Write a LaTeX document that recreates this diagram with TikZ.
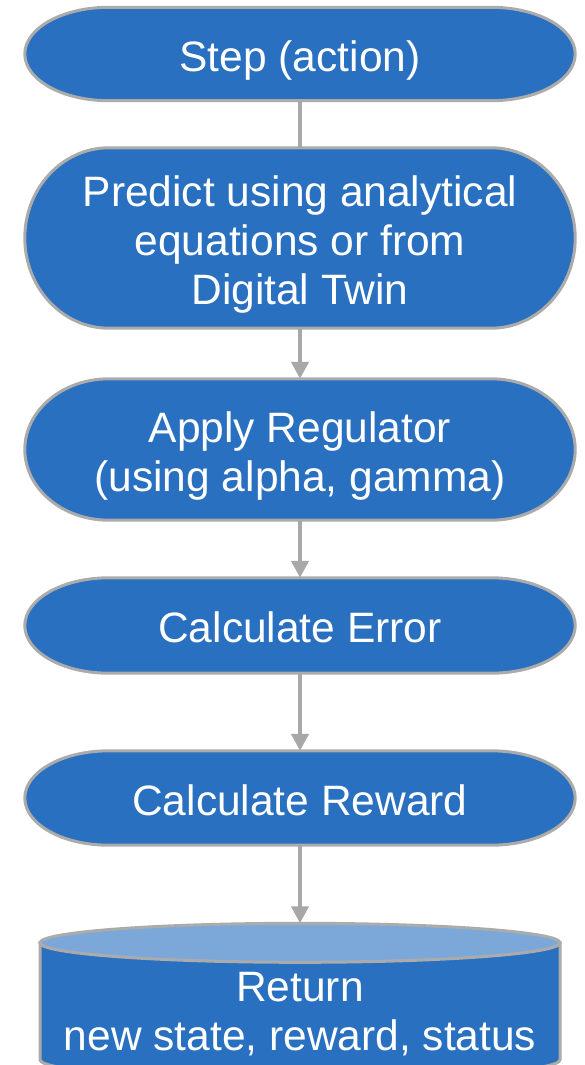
\documentclass[tikz,border=0pt]{standalone}
\usepackage{fontspec}
\setmainfont{Liberation Sans}
\usetikzlibrary{arrows.meta,calc,backgrounds}
\definecolor{boxblue}{HTML}{2970C1}
\definecolor{topblue}{HTML}{7BA8D9}
\definecolor{edgegray}{HTML}{ABABAB}
\definecolor{linkgray}{HTML}{A8A8A8}
\newcommand\textlines[1]{\raisebox{-7.5pt}[\height][\depth]{\begin{tabular}{@{}c@{}}#1\end{tabular}}}
\tikzset{
  termnode/.style={shape=rectangle, draw=none, fill=none, inner sep=0pt,
    minimum width=550pt, text=white,
    font=\fontsize{42.5}{49}\selectfont},
  termdraw/.style={fill=boxblue, draw=edgegray, line width=3pt},
  link/.style={draw=linkgray, line width=4.5pt},
  arrowlink/.style={link, -{Triangle[length=17pt,width=17pt]}}
}
\newcommand\termshape[1]{%
\begin{pgfonlayer}{background}
\path[termdraw] let \p1=($(#1.north)-(#1.south)$) in
  ([xshift=84pt]#1.north west) -- ([xshift=-84pt]#1.north east)
  arc[start angle=90,end angle=-90,x radius=84pt,y radius=0.5*\y1]
  -- ([xshift=84pt]#1.south west)
  arc[start angle=270,end angle=90,x radius=84pt,y radius=0.5*\y1] -- cycle;
\end{pgfonlayer}}
\begin{document}
\begin{tikzpicture}[x=1pt,y=-1pt]
\begin{pgfonlayer}{background}
\fill[white] (0,0) rectangle (585,1065);
\end{pgfonlayer}
\useasboundingbox (0,0) rectangle (585,1065);
\node[termnode, minimum height=93pt] (step) at (300,54) {\textlines{Step (action)}};
\node[termnode, minimum height=180pt] (pred) at (300,238) {\textlines{Predict using analytical\\equations or from\\Digital Twin}};
\node[termnode, minimum height=141pt] (reg) at (300,449.5) {\textlines{Apply Regulator\\(using alpha, gamma)}};
\node[termnode, minimum height=95pt] (err) at (300,625.5) {\textlines{Calculate Error}};
\node[termnode, minimum height=94pt] (rew) at (300,798) {\textlines{Calculate Reward}};
\node[termnode, minimum width=520pt, minimum height=171pt] (ret) at (300,1009) {\textlines{Return\\new state, reward, status}};
\termshape{step}
\termshape{pred}
\termshape{reg}
\termshape{err}
\termshape{rew}
\begin{pgfonlayer}{background}
\clip (0,0) rectangle (585,1065);
\path[termdraw] ($(ret.north)+(-260,19.5)$) -- ($(ret.north)+(-260,136.5)$)
  arc[start angle=180,end angle=360,x radius=260pt,y radius=19.5pt]
  -- ($(ret.north)+(260,19.5)$) -- cycle;
\path[fill=topblue, draw=edgegray, line width=3pt] ($(ret.north)+(0,19.5)$) ellipse[x radius=260pt, y radius=19.5pt];
\end{pgfonlayer}
\draw[link] (step.south) -- (pred.north);
\draw[arrowlink] (pred.south) -- (reg.north);
\draw[arrowlink] (reg.south) -- (err.north);
\draw[arrowlink] (err.south) -- (rew.north);
\draw[arrowlink] (rew.south) -- (ret.north);
\end{tikzpicture}
\end{document}
